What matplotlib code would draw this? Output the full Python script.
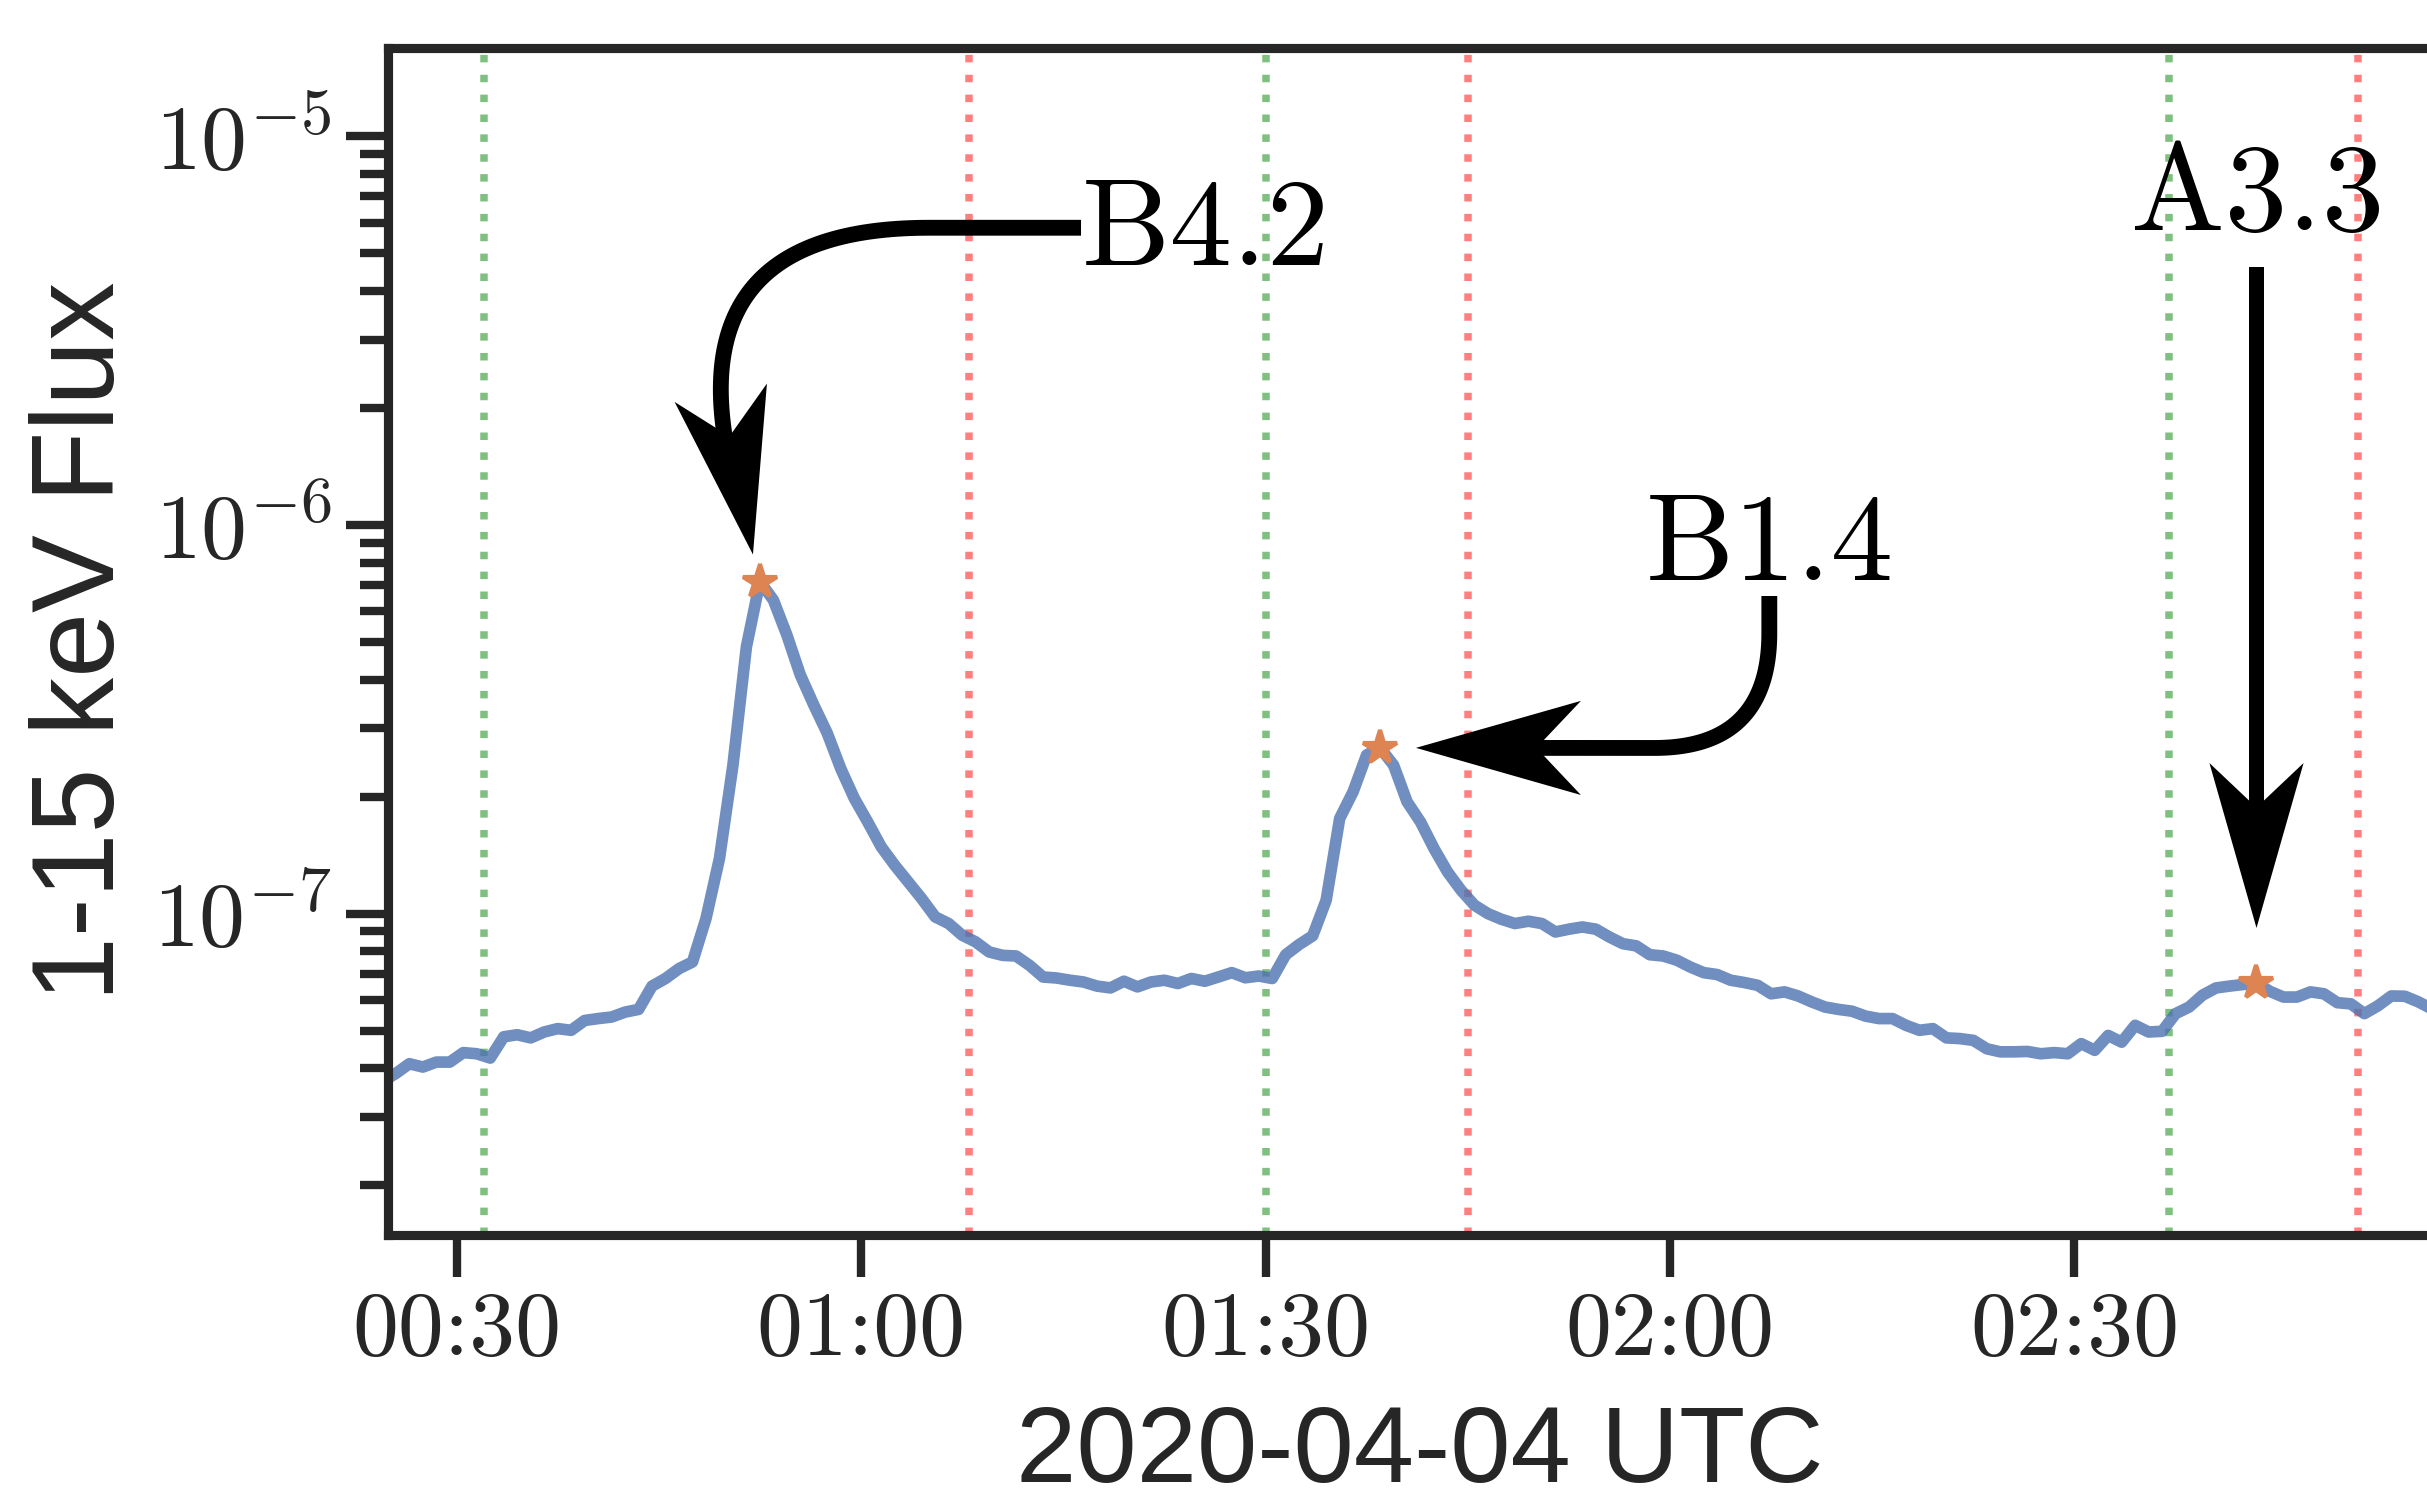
import numpy as np
import pandas as pd
import matplotlib
matplotlib.use("Agg")
import matplotlib.pyplot as plt
import matplotlib.dates as mdates
from matplotlib.patches import ArrowStyle
from matplotlib.path import Path

# ---------------- data ----------------
start_time = "2020-04-04 00:24:30"   # 1-minute cadence samples
flux = [
    3.70e-8, 3.88e-8, 4.11e-8, 4.03e-8, 4.15e-8, 4.15e-8, 4.39e-8, 4.36e-8, 4.25e-8, 4.82e-8,
    4.88e-8, 4.79e-8, 4.96e-8, 5.06e-8, 5.01e-8, 5.31e-8, 5.37e-8, 5.42e-8, 5.58e-8, 5.67e-8,
    6.51e-8, 6.81e-8, 7.22e-8, 7.51e-8, 9.71e-8, 1.386e-7, 2.41e-7, 4.86e-7, 7.15e-7, 6.41e-7,
    5.21e-7, 4.11e-7, 3.44e-7, 2.91e-7, 2.36e-7, 1.98e-7, 1.72e-7, 1.485e-7, 1.332e-7, 1.207e-7,
    1.093e-7, 9.81e-8, 9.43e-8, 8.80e-8, 8.46e-8, 7.97e-8, 7.81e-8, 7.78e-8, 7.36e-8, 6.87e-8,
    6.83e-8, 6.74e-8, 6.67e-8, 6.51e-8, 6.44e-8, 6.70e-8, 6.48e-8, 6.67e-8, 6.74e-8, 6.61e-8,
    6.81e-8, 6.70e-8, 6.87e-8, 7.05e-8, 6.84e-8, 6.91e-8, 6.81e-8, 7.84e-8, 8.33e-8, 8.77e-8,
    1.083e-7, 1.757e-7, 2.06e-7, 2.56e-7, 2.67e-7, 2.41e-7, 1.94e-7, 1.72e-7, 1.47e-7, 1.28e-7,
    1.149e-7, 1.051e-7, 1.00e-7, 9.67e-8, 9.43e-8, 9.56e-8, 9.43e-8, 8.97e-8, 9.12e-8, 9.24e-8,
    9.12e-8, 8.71e-8, 8.37e-8, 8.26e-8, 7.84e-8, 7.78e-8, 7.59e-8, 7.29e-8, 7.05e-8, 6.97e-8,
    6.74e-8, 6.65e-8, 6.54e-8, 6.22e-8, 6.29e-8, 6.14e-8, 5.93e-8, 5.75e-8, 5.67e-8, 5.61e-8,
    5.45e-8, 5.37e-8, 5.37e-8, 5.16e-8, 5.01e-8, 5.06e-8, 4.79e-8, 4.77e-8, 4.72e-8, 4.49e-8,
    4.41e-8, 4.41e-8, 4.42e-8, 4.36e-8, 4.39e-8, 4.36e-8, 4.63e-8, 4.45e-8, 4.86e-8, 4.67e-8,
    5.16e-8, 4.96e-8, 4.98e-8, 5.53e-8, 5.75e-8, 6.17e-8, 6.44e-8, 6.51e-8, 6.57e-8, 6.63e-8,
    6.31e-8, 6.10e-8, 6.10e-8, 6.29e-8, 6.22e-8, 5.90e-8, 5.86e-8, 5.53e-8, 5.79e-8, 6.14e-8,
    6.13e-8, 5.93e-8, 5.69e-8,
]
times = pd.date_range(start_time, periods=len(flux), freq="1min")

peak_times = pd.to_datetime(["2020-04-04 00:52:30", "2020-04-04 01:38:30", "2020-04-04 02:43:30"])
peak_labels = ["B4.2", "B1.4", "A3.3"]

flare_starts = pd.to_datetime(["2020-04-04 00:32", "2020-04-04 01:30", "2020-04-04 02:37"])
flare_ends = pd.to_datetime(["2020-04-04 01:08", "2020-04-04 01:45", "2020-04-04 02:51"])

# annotation layout (text baseline centre, arrow start) in data coordinates
label_times = pd.to_datetime(["2020-04-04 01:25:35", "2020-04-04 02:07:24", "2020-04-04 02:43:36"])
label_flux = [4.67e-6, 7.22e-7, 5.745e-6]
arrow_start_times = pd.to_datetime(["2020-04-04 01:16:19", "2020-04-04 02:07:22", "2020-04-04 02:43:30"])
arrow_start_flux = [5.816e-6, 6.565e-7, 4.617e-6]
arrow_conn = ["arc,angleA=180,armA=412,rad=260",
              "arc,angleA=-90,armA=152,rad=115",
              "arc3,rad=0"]
arrow_shrinkB = [6.7, 8.6, 13.2]

flux_s = pd.Series(flux, index=times)
peak_flux = flux_s[peak_times].values

# ---------------- style ----------------
DARK = "#262626"
plt.rcParams["axes.formatter.use_mathtext"] = True
plt.rcParams["mathtext.fontset"] = "cm"
plt.rcParams["font.family"] = ["Liberation Sans", "DejaVu Sans"]


class NotchedArrow(ArrowStyle._Base):
    """Filled shaft with a notched (barbed) arrow head; sizes in points."""

    def __init__(self, head_length=39.6, head_width=22.6, notch=0.27, tail_width=3.8):
        self.head_length = head_length
        self.head_width = head_width
        self.notch = notch
        self.tail_width = tail_width
        super().__init__()

    def transmute(self, path, mutation_size, linewidth):
        pts = [np.asarray(path.vertices[0], float)]
        ts = np.linspace(0, 1, 80)[1:]
        for seg, code in path.iter_bezier():
            if code == Path.MOVETO:
                continue
            pts.extend(seg(ts))
        pts = np.asarray(pts, float)
        keep = np.r_[True, np.hypot(*np.diff(pts, axis=0).T) > 1e-9]
        pts = pts[keep]
        seglen = np.hypot(*np.diff(pts, axis=0).T)
        dist = np.r_[np.cumsum(seglen[::-1])[::-1], 0.0]
        rd = dist[::-1]
        rp = pts[::-1]

        def at(s):
            return np.array([np.interp(s, rd, rp[:, 0]), np.interp(s, rd, rp[:, 1])])

        hl = self.head_length * mutation_size
        hw = self.head_width * mutation_size
        tw = self.tail_width * mutation_size
        tip = pts[-1]
        d = tip - at(hl)
        d = d / np.hypot(*d)
        nrm = np.array([-d[1], d[0]])
        base = tip - d * hl
        notch_pt = tip - d * hl * (1 - self.notch)
        head = Path([tip, base + nrm * hw / 2, notch_pt, base - nrm * hw / 2, tip],
                    [Path.MOVETO, Path.LINETO, Path.LINETO, Path.LINETO, Path.CLOSEPOLY])
        cut = hl * (1 - self.notch) - 3
        shaft = np.vstack([pts[dist > cut], at(cut)])
        tang = np.gradient(shaft, axis=0)
        tang = tang / np.hypot(tang[:, 0], tang[:, 1])[:, None]
        nn = np.column_stack([-tang[:, 1], tang[:, 0]])
        left = shaft + nn * tw / 2
        right = shaft - nn * tw / 2
        poly = np.vstack([left, right[::-1], left[:1]])
        codes = [Path.MOVETO] + [Path.LINETO] * (len(poly) - 2) + [Path.CLOSEPOLY]
        return [Path(poly, codes), head], [True, True]


W, H, DPI = 2427, 1503, 300
fig = plt.figure(figsize=(W / DPI, H / DPI), dpi=DPI)
fig.patch.set_facecolor("white")
left_px, right_px, top_px, bottom_px = 388, 2452, 47.7, 1235
ax = fig.add_axes([left_px / W, 1 - bottom_px / H,
                   (right_px - left_px) / W, (bottom_px - top_px) / H])

for t in flare_starts:
    ax.axvline(t, color="green", alpha=0.5, ls=":", lw=1.8, zorder=1)
for t in flare_ends:
    ax.axvline(t, color="red", alpha=0.5, ls=":", lw=1.8, zorder=1)

ax.plot(times, flux, color="#4c72b0", alpha=0.8, lw=2.8, zorder=2)
ax.plot(peak_times, peak_flux, ls="none", marker="*", ms=8.5, mew=1.0,
        color="#dd8452", zorder=3)

ax.set_yscale("log")
ax.set_ylim(1.49e-8, 1.69e-5)
ax.set_xlim(pd.Timestamp("2020-04-04 00:24:55"), pd.Timestamp("2020-04-04 02:58:00"))

ax.xaxis.set_major_locator(mdates.MinuteLocator(byminute=[0, 30]))
ax.xaxis.set_major_formatter(mdates.DateFormatter("%H:%M"))
ax.xaxis.set_minor_locator(matplotlib.ticker.NullLocator())

for sp in ax.spines.values():
    sp.set_linewidth(2.2)
    sp.set_color(DARK)

ax.tick_params(which="both", direction="out", color=DARK, labelcolor=DARK,
               top=False, right=False, labelfontfamily="cmr10")
ax.tick_params(which="major", length=10, width=2.0, labelsize=22, pad=3.5)
ax.tick_params(which="minor", length=6.7, width=2.0)

ax.set_xlabel("2020-04-04 UTC", fontsize=26, color=DARK, labelpad=7.5)
ax.set_ylabel("1-15 keV Flux", fontsize=28, color=DARK, labelpad=3.5)

for i in range(len(peak_labels)):
    ax.annotate("",
                xy=(mdates.date2num(peak_times[i]), peak_flux[i]),
                xytext=(mdates.date2num(arrow_start_times[i]), arrow_start_flux[i]),
                xycoords="data", textcoords="data", annotation_clip=False,
                arrowprops=dict(arrowstyle=NotchedArrow(), connectionstyle=arrow_conn[i],
                                mutation_scale=1, shrinkA=0, shrinkB=arrow_shrinkB[i],
                                fc="black", ec="none", lw=0),
                zorder=4)
    ax.text(mdates.date2num(label_times[i]), label_flux[i], peak_labels[i],
            ha="center", va="baseline", fontsize=30, fontfamily="cmr10",
            color="black", zorder=5)

fig.savefig("out.png", dpi=DPI, facecolor="white")
